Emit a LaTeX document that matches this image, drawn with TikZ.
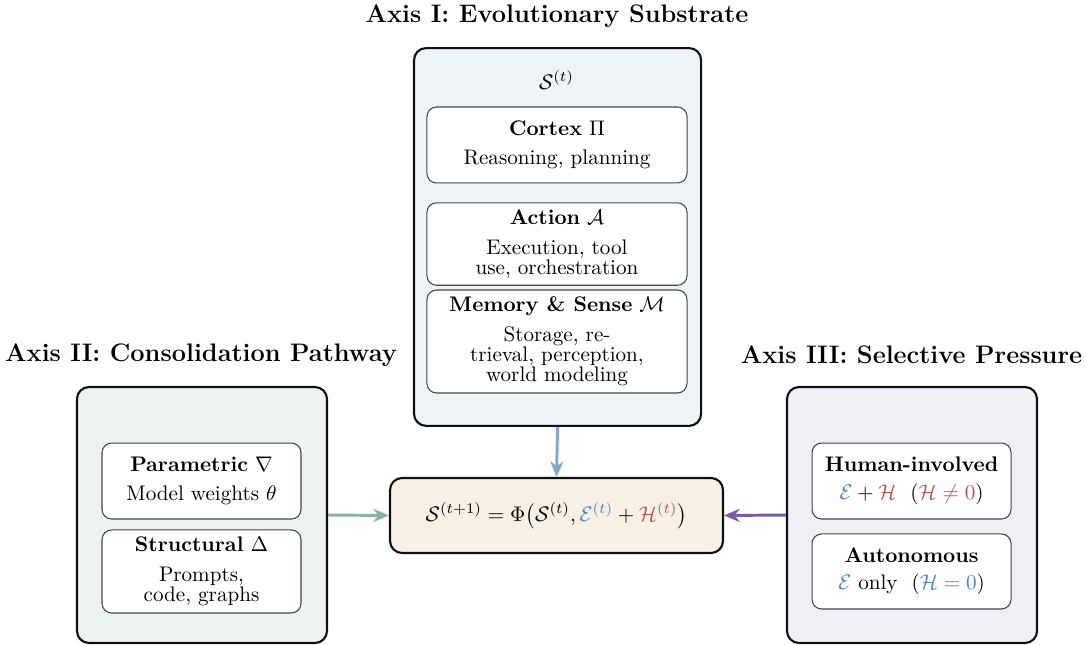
\documentclass[tikz,border=0pt]{standalone}
\usepackage{amsmath,amssymb}
\usepackage{xcolor}
\usepackage{tikz}
\usetikzlibrary{arrows.meta,positioning}
\definecolor{ink}{HTML}{111111}
\definecolor{edgegray}{HTML}{444444}
\definecolor{envblue}{HTML}{4A86C0}
\definecolor{humred}{HTML}{B85450}
\definecolor{subpale}{HTML}{EEF3F8}
\definecolor{conpale}{HTML}{EDF3F0}
\definecolor{selpale}{HTML}{F1EEF5}
\definecolor{eqpale}{HTML}{F6F0E6}
\definecolor{subarrow}{HTML}{7FA8D1}
\definecolor{conarrow}{HTML}{88B49C}
\definecolor{selarrow}{HTML}{7A5BA8}
\tikzset{
  >={Stealth[length=2.6mm,width=2.2mm]},
  axisbox/.style={draw=ink, rounded corners=2mm, line width=1pt},
  subbox/.style={draw=edgegray, fill=white, rounded corners=1.6mm, line width=.5pt, align=center},
  axistitle/.style={font=\bfseries\large},
  flow/.style={->, line width=1.4pt}
}
\newcommand{\envE}{{\color{envblue}\mathcal{E}}}
\newcommand{\humH}{{\color{humred}\mathcal{H}}}

\begin{document}
\begin{tikzpicture}[x=1cm,y=1cm]
  \useasboundingbox (0,0) rectangle (18.082,-10.739);

  % Axis I
  \node[axistitle] (titleI) at (9.274,-0.266) {Axis I: Evolutionary Substrate};
  \node[axisbox,fill=subpale,minimum width=4.78cm,minimum height=6.29cm,anchor=north west] (sub) at (6.876,-0.783) {};
  \node (state) at (9.266,-1.332) {$\mathcal{S}^{(t)}$};
  \node[subbox,minimum width=4.33cm,minimum height=1.265cm] (cortex) at (9.274,-2.414)
    {\textbf{Cortex} $\Pi$\\[2pt] Reasoning, planning};
  \node[subbox,minimum width=4.33cm,minimum height=1.365cm] (action) at (9.274,-4.063)
    {\textbf{Action} $\mathcal{A}$\\[2pt] Execution, tool\\[-2.5pt] use, orchestration};
  \node[subbox,minimum width=4.33cm,minimum height=1.715cm] (memory) at (9.274,-5.686)
    {\textbf{Memory \& Sense} $\mathcal{M}$\\[2pt] Storage, re-\\[-2.5pt] trieval, perception,\\[-2.5pt] world modeling};

  % update rule
  \node[axisbox,fill=eqpale,minimum width=5.544cm,minimum height=1.249cm] (update) at (9.266,-8.583)
    {$\mathcal{S}^{(t+1)} = \Phi\bigl(\mathcal{S}^{(t)}, {\color{envblue}\mathcal{E}^{(t)}} + {\color{humred}\mathcal{H}^{(t)}}\bigr)$};

  % Axis II
  \node[axistitle] (titleII) at (3.347,-5.911) {Axis II: Consolidation Pathway};
  \node[axisbox,fill=conpale,minimum width=4.163cm,minimum height=4.262cm] (con) at (3.363,-8.575) {};
  \node[subbox,minimum width=3.313cm,minimum height=1.265cm] (param) at (3.355,-8.009)
    {\textbf{Parametric} $\nabla$\\[2pt] Model weights $\theta$};
  \node[subbox,minimum width=3.313cm,minimum height=1.382cm] (struct) at (3.355,-9.515)
    {\textbf{Structural} $\Delta$\\[2pt] Prompts,\\[-2.5pt] code, graphs};

  % Axis III
  \node[axistitle] (titleIII) at (15.177,-5.911) {Axis III: Selective Pressure};
  \node[axisbox,fill=selpale,minimum width=4.163cm,minimum height=4.262cm] (sel) at (15.185,-8.575) {};
  \node[subbox,minimum width=3.313cm,minimum height=1.265cm] (human) at (15.177,-8.009)
    {\textbf{Human-involved}\\[1pt] $\envE + \humH$\ \ ($\humH \mathrel{\color{humred}\neq} {\color{humred}0}$)};
  \node[subbox,minimum width=3.313cm,minimum height=1.249cm] (auto) at (15.177,-9.515)
    {\textbf{Autonomous}\\[1pt] $\envE$ only\ \ (${\color{envblue}\mathcal{H} = 0}$)};

  \draw[flow,color=subarrow] (sub.south) -- (update.north);
  \draw[flow,color=conarrow] (con.east) -- (update.west);
  \draw[flow,color=selarrow] (sel.west) -- (update.east);
\end{tikzpicture}
\end{document}
